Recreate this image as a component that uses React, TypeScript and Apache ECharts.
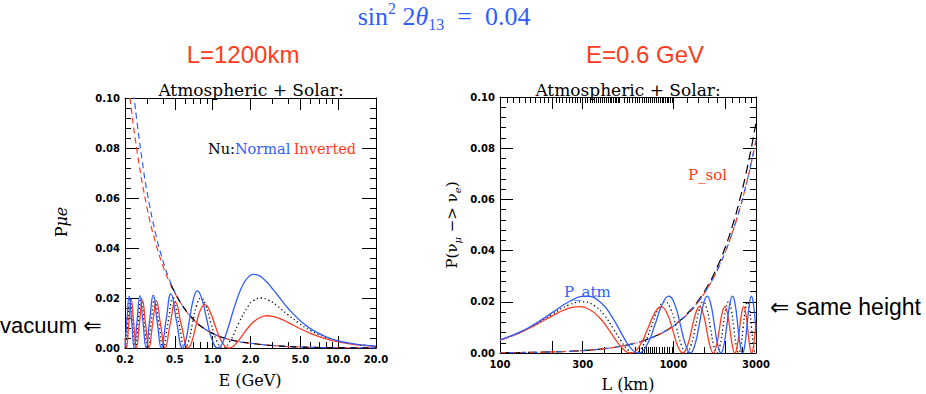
import React, { useEffect, useRef } from 'react';
import * as echarts from 'echarts';

const BLUE = '#2f5dff';
const RED = '#ff3b20';

// ---- Left panel: P(mu->e) vs E (GeV), L = 1200 km ----
const leftVacuum: [number, number][] = [
  [0.2016, 0], [0.2104, 0.01], [0.2199, 0.02], [0.2304, 0.01], [0.2419, 0], [0.2547, 0.01], [0.2688, 0.02],
  [0.2846, 0.01], [0.3024, 0], [0.3226, 0.01], [0.3456, 0.02], [0.3722, 0.01], [0.4032, 0], [0.4399, 0.01],
  [0.4839, 0.02], [0.5376, 0.01], [0.6048, 0], [0.6451, 0.00293], [0.6912, 0.01], [0.7444, 0.01707],
  [0.8064, 0.02], [0.8797, 0.01707], [0.9677, 0.01], [1.0752, 0.00293], [1.2095, 0], [1.382, 0.00293],
  [1.613, 0.01], [1.935, 0.01707], [2.1, 0.01888], [2.419, 0.02], [2.8, 0.01911], [3.226, 0.01707],
  [4, 0.0132], [4.838, 0.01], [6, 0.007], [8, 0.0042], [9.677, 0.00293], [13, 0.00166], [16, 0.00111], [20, 0.00071],
];
const leftNormal: [number, number][] = [
  [0.2, 0.0006], [0.2067, 0.0103], [0.2159, 0.02075], [0.226, 0.0104], [0.237, 0], [0.2492, 0.01044],
  [0.2628, 0.02092], [0.2779, 0.01049], [0.2948, 0], [0.3139, 0.01056], [0.3357, 0.02119], [0.3608, 0.01064],
  [0.3898, 0], [0.424, 0.01076], [0.4647, 0.02168], [0.5141, 0.01093], [0.5752, 0], [0.6116, 0.00326],
  [0.6528, 0.01121], [0.7001, 0.0193], [0.7547, 0.02284], [0.8185, 0.01972], [0.8941, 0.01171], [0.9851, 0.00349],
  [1.0968, 0], [1.15, 0.00063], [1.2, 0.00214], [1.3, 0.00672], [1.4, 0.01201], [1.5, 0.01691], [1.65, 0.02278],
  [1.8, 0.02659], [1.95, 0.02865], [2.1, 0.02943], [2.3, 0.02914], [2.6, 0.02717], [3.0, 0.02363], [3.5, 0.01934],
  [4, 0.01581], [5, 0.01084], [6, 0.00777], [8, 0.00447], [10, 0.00289], [13, 0.00171], [16, 0.00113], [20, 0.00072],
];
const leftInverted: [number, number][] = [
  [0.2, 0.00401], [0.2051, 0], [0.2142, 0.00965], [0.2241, 0.01926], [0.235, 0.00961], [0.247, 0],
  [0.2603, 0.00957], [0.2751, 0.0191], [0.2917, 0.00952], [0.3104, 0], [0.3316, 0.00946], [0.356, 0.01884],
  [0.3843, 0.00938], [0.4175, 0], [0.4569, 0.00927], [0.5046, 0.01839], [0.5633, 0.00911], [0.6376, 0],
  [0.6825, 0.00262], [0.7343, 0.00886], [0.7946, 0.01498], [0.8658, 0.01735], [0.9508, 0.01462], [1.0544, 0.00842],
  [1.1833, 0.00242], [1.3482, 0], [1.42, 0.00032], [1.5, 0.00125], [1.6, 0.00284], [1.75, 0.00551], [1.9, 0.00791],
  [2.1, 0.0103], [2.4, 0.01231], [2.7, 0.0129], [3.0, 0.01269], [3.5, 0.01157], [4, 0.01018], [5, 0.00769],
  [6, 0.00586], [8, 0.00363], [10, 0.00244], [13, 0.0015], [16, 0.00101], [20, 0.00066],
];
const leftSolarNormal: [number, number][] = [
  [0.23, 0.106], [0.237, 0.1], [0.25, 0.0899], [0.28, 0.0717], [0.3, 0.0624], [0.35, 0.0459], [0.4, 0.0351],
  [0.45, 0.0276], [0.5, 0.0222], [0.6, 0.0156], [0.7, 0.0115], [0.8, 0.0088], [1.0, 0.0058], [1.2, 0.0042],
  [1.5, 0.0029], [2.0, 0.0019], [3.0, 0.001], [5, 0.0004], [10, 0.00012], [20, 0.00004],
];
const leftSolarInverted: [number, number][] = [
  [0.21, 0.108], [0.219, 0.1], [0.25, 0.0785], [0.3, 0.056], [0.35, 0.0422], [0.4, 0.033], [0.45, 0.0266],
  [0.5, 0.0219], [0.6, 0.0155], [0.7, 0.0115], [0.8, 0.0088], [1.0, 0.0058], [1.2, 0.0042], [1.5, 0.0029],
  [2.0, 0.0019], [3.0, 0.001], [5, 0.0004], [10, 0.00012], [20, 0.00004],
];
const leftSolarVacuum: [number, number][] = [
  [0.45, 0.0272], [0.5, 0.0221], [0.6, 0.0155], [0.7, 0.0115], [0.8, 0.0088], [1.0, 0.0058], [1.2, 0.0042],
  [1.5, 0.0029], [2.0, 0.0019], [3.0, 0.001], [5, 0.0004], [10, 0.00012], [20, 0.00004],
];

// ---- Right panel: P vs L (km), E = 0.6 GeV ----
const rightNormal: [number, number][] = [
  [100, 0.00512], [130, 0.00816], [160, 0.01146], [200, 0.01576], [250, 0.02002], [313.6, 0.0222], [380, 0.01983],
  [450, 0.01337], [520, 0.00581], [580, 0.00122], [627.2, 0], [705.6, 0.00325], [784, 0.0111], [862.4, 0.01895],
  [940.8, 0.0222], [1019.2, 0.01895], [1097.6, 0.0111], [1176, 0.00325], [1254.4, 0], [1332.8, 0.00325],
  [1411.2, 0.0111], [1489.6, 0.01895], [1568, 0.0222], [1646.4, 0.01895], [1724.8, 0.0111], [1803.2, 0.00325],
  [1881.6, 0], [1960, 0.00325], [2038.4, 0.0111], [2116.8, 0.01895], [2195.2, 0.0222], [2273.6, 0.01895],
  [2352, 0.0111], [2430.4, 0.00325], [2508.8, 0], [2587.2, 0.00325], [2665.6, 0.0111], [2744, 0.01895],
  [2822.4, 0.0222], [2900.8, 0.01895], [2979.2, 0.0111], [3000, 0.0088],
];
const rightInverted: [number, number][] = [
  [100, 0.00502], [130, 0.00789], [160, 0.01089], [200, 0.01451], [240, 0.01708], [283.2, 0.0181], [330, 0.0169],
  [380, 0.01336], [430, 0.00852], [480, 0.00384], [530, 0.00072], [566.4, 0], [637.2, 0.00265], [708, 0.00905],
  [778.8, 0.01545], [849.6, 0.0181], [920.4, 0.01545], [991.2, 0.00905], [1062, 0.00265], [1132.8, 0],
  [1203.6, 0.00265], [1274.4, 0.00905], [1345.2, 0.01545], [1416, 0.0181], [1486.8, 0.01545], [1557.6, 0.00905],
  [1628.4, 0.00265], [1699.2, 0], [1770, 0.00265], [1840.8, 0.00905], [1911.6, 0.01545], [1982.4, 0.0181],
  [2053.2, 0.01545], [2124, 0.00905], [2194.8, 0.00265], [2265.6, 0], [2336.4, 0.00265], [2407.2, 0.00905],
  [2478, 0.01545], [2548.8, 0.0181], [2619.6, 0.01545], [2690.4, 0.00905], [2761.2, 0.00265], [2832, 0],
  [2902.8, 0.00265], [2973.6, 0.00905], [3000, 0.01168],
];
const rightVacuum: [number, number][] = [
  [100, 0.00507], [130, 0.00803], [160, 0.01118], [200, 0.01515], [250, 0.01876], [297.6, 0.02], [350, 0.01851],
  [400, 0.01471], [450, 0.00962], [500, 0.00464], [550, 0.00112], [595.2, 0], [669.6, 0.00293], [744, 0.01],
  [818.4, 0.01707], [892.8, 0.02], [967.2, 0.01707], [1041.6, 0.01], [1116, 0.00293], [1190.4, 0],
  [1264.8, 0.00293], [1339.2, 0.01], [1413.6, 0.01707], [1488, 0.02], [1562.4, 0.01707], [1636.8, 0.01],
  [1711.2, 0.00293], [1785.6, 0], [1860, 0.00293], [1934.4, 0.01], [2008.8, 0.01707], [2083.2, 0.02],
  [2157.6, 0.01707], [2232, 0.01], [2306.4, 0.00293], [2380.8, 0], [2455.2, 0.00293], [2529.6, 0.01],
  [2604, 0.01707], [2678.4, 0.02], [2752.8, 0.01707], [2827.2, 0.01], [2901.6, 0.00293], [2976, 0], [3000, 0.0003],
];
const rightSolarVacuum: [number, number][] = [
  [100, 0.000107], [200, 0.00043], [300, 0.00096], [400, 0.00171], [500, 0.00267], [600, 0.00384], [700, 0.00522],
  [800, 0.00682], [900, 0.00862], [1000, 0.01062], [1200, 0.01525], [1400, 0.02067], [1600, 0.02688],
  [1800, 0.03385], [2000, 0.04155], [2200, 0.04997], [2400, 0.05905], [2600, 0.06878], [2800, 0.0791], [3000, 0.09],
];
const rightSolarMatter: [number, number][] = [
  [100, 0.0001], [200, 0.00043], [300, 0.00096], [400, 0.0017], [500, 0.00266], [600, 0.00382], [700, 0.0052],
  [800, 0.00677], [900, 0.00854], [1000, 0.0105], [1200, 0.015], [1400, 0.0202], [1600, 0.0261], [1800, 0.0326],
  [2000, 0.0397], [2200, 0.0474], [2400, 0.0556], [2600, 0.0643], [2800, 0.0735], [3000, 0.0832],
];

// ---- Tick values ----
const leftLabels = [0.2, 0.5, 1, 2, 5, 10, 20];
const leftMinor = [0.3, 0.4, 0.6, 0.7, 0.8, 0.9, 3, 4, 6, 7, 8, 9];
const rightLabels = [100, 300, 1000, 3000];
const rightMajor = [200, 300, 1000, 2000];
const rightTopMinor = [
  ...Array.from({ length: 19 }, (_, i) => 110 + 10 * i).filter((v) => v !== 200),
  ...Array.from({ length: 19 }, (_, i) => 310 + 10 * i),
  ...Array.from({ length: 24 }, (_, i) => 520 + 20 * i),
  1200, 1400, 1600, 1800, 2200, 2400, 2600, 2800,
];
const rightBottomMinor = [
  400, 500, 600, 640, 660, 680, 700, 720, 740, 760, 780, 800, 830, 860, 890, 920, 950, 980, 1500, 2500,
];

const lg = (v: number) => Math.log10(v);
const toLog = (d: [number, number][]) => d.map(([x, y]) => [Math.log10(x), y]);

const GRID_L = { left: 125, top: 98, width: 251, height: 250 };
const GRID_R = { left: 500, top: 97, width: 256, height: 256 };

export default function App() {
  const ref = useRef<HTMLDivElement>(null);
  useEffect(() => {
    const chart = echarts.init(ref.current!, null, { renderer: 'svg' });
    const black = { color: '#000', width: 1 };
    const tickLabel = { color: '#000', fontFamily: 'DejaVu Sans', fontWeight: 'bold' as const, fontSize: 10 };

    const xPair = (gridIndex: number, min: number, max: number, majors: number[], labels: number[], fmt: (v: number) => string) => [
      {
        type: 'value', gridIndex, position: 'bottom', min, max,
        axisLine: { show: true, onZero: false, lineStyle: black },
        axisTick: { show: true, inside: true, length: 12, customValues: majors.map(lg), lineStyle: black },
        axisLabel: { show: true, customValues: labels.map(lg), formatter: fmt, margin: 6, showMinLabel: true, showMaxLabel: true, ...tickLabel },
        splitLine: { show: false },
      },
      {
        type: 'value', gridIndex, position: 'top', min, max,
        axisLine: { show: true, onZero: false, lineStyle: black },
        axisTick: { show: true, inside: true, length: 12, customValues: majors.map(lg), lineStyle: black },
        axisLabel: { show: false },
        splitLine: { show: false },
      },
    ];
    const xMinor = (gridIndex: number, min: number, max: number, bottom: number[], top: number[]) => [
      {
        type: 'value', gridIndex, position: 'bottom', min, max,
        axisLine: { show: false, onZero: false },
        axisTick: { show: true, inside: true, length: 6, customValues: bottom.map(lg), lineStyle: black },
        axisLabel: { show: false }, splitLine: { show: false },
      },
      {
        type: 'value', gridIndex, position: 'top', min, max,
        axisLine: { show: false, onZero: false },
        axisTick: { show: true, inside: true, length: 6, customValues: top.map(lg), lineStyle: black },
        axisLabel: { show: false }, splitLine: { show: false },
      },
    ];
    const yPair = (gridIndex: number, len: number) => [
      {
        type: 'value', gridIndex, position: 'left', min: 0, max: 0.1, interval: 0.02,
        axisLine: { show: true, onZero: false, lineStyle: black },
        axisTick: { show: true, inside: true, length: len, lineStyle: black },
        minorTick: { show: true, splitNumber: 5, length: 6, lineStyle: black },
        axisLabel: { show: true, margin: 5, formatter: (v: number) => v.toFixed(2), ...tickLabel },
        splitLine: { show: false }, minorSplitLine: { show: false },
      },
      {
        type: 'value', gridIndex, position: 'right', min: 0, max: 0.1, interval: 0.02,
        axisLine: { show: true, onZero: false, lineStyle: black },
        axisTick: { show: true, inside: true, length: len, lineStyle: black },
        minorTick: { show: true, splitNumber: 5, length: 6, lineStyle: black },
        axisLabel: { show: false },
        splitLine: { show: false }, minorSplitLine: { show: false },
      },
    ];
    const yHidden = (gridIndex: number) => ({ type: 'value', gridIndex, show: false, min: 0, max: 0.1, splitLine: { show: false } });

    const lmin = lg(0.2), lmax = lg(20), rmin = lg(100), rmax = lg(3000);

    const line = (data: [number, number][], xi: number, yi: number, color: string, type: any, width: number, z: number, dashOffset = 0) => ({
      type: 'line', xAxisIndex: xi, yAxisIndex: yi, data: toLog(data), showSymbol: false, symbol: 'none',
      smooth: 0.5, silent: true, z, clip: true,
      lineStyle: { color, width, type, dashOffset },
    });

    const serif = 'DejaVu Serif';
    const txt = (x: number, y: number, text: string, fontSize: number, fill: string, fontFamily: string, align = 'center', extra: any = {}) => ({
      type: 'text', x, y, silent: true,
      style: { text, fontSize, fill, fontFamily, align, verticalAlign: 'middle', ...extra },
    });

    const option: any = {
      animation: false,
      backgroundColor: '#ffffff',
      grid: [
        { ...GRID_L, outerBoundsMode: 'none' },
        { ...GRID_L, outerBoundsMode: 'none' },
        { ...GRID_R, outerBoundsMode: 'none' },
        { ...GRID_R, outerBoundsMode: 'none' },
      ],
      xAxis: [
        ...xPair(0, lmin, lmax, leftLabels, leftLabels, (v: number) => Math.pow(10, v).toFixed(1)),
        ...xMinor(1, lmin, lmax, leftMinor, leftMinor),
        ...xPair(2, rmin, rmax, rightMajor, rightLabels, (v: number) => String(Math.round(Math.pow(10, v)))),
        ...xMinor(3, rmin, rmax, rightBottomMinor, rightTopMinor),
      ],
      yAxis: [...yPair(0, 14), yHidden(1), ...yPair(2, 13), yHidden(3)],
      series: [
        line(leftSolarInverted, 0, 0, RED, [6, 4], 1.2, 2),
        line(leftSolarNormal, 0, 0, BLUE, [6, 4], 1.2, 3),
        line(leftSolarVacuum, 0, 0, '#000', [6, 6], 1.2, 4, 6),
        line(leftVacuum, 0, 0, '#000', [1.2, 2.8], 1.3, 5),
        line(leftInverted, 0, 0, RED, 'solid', 1.3, 6),
        line(leftNormal, 0, 0, BLUE, 'solid', 1.3, 7),
        line(rightSolarVacuum, 4, 3, '#000', [9, 5], 1.2, 2),
        line(rightSolarMatter, 4, 3, RED, [6, 4], 1.2, 3),
        line(rightSolarMatter, 4, 3, BLUE, [5, 3, 1, 3], 1.2, 4, 3),
        line(rightVacuum, 4, 3, '#000', [1.2, 2.8], 1.3, 5),
        line(rightInverted, 4, 3, RED, 'solid', 1.3, 6),
        line(rightNormal, 4, 3, BLUE, 'solid', 1.3, 7),
      ],
      graphic: [
        {
          type: 'text', x: 444, y: 16, silent: true,
          style: {
            text: '{n|sin}{sup|2}{n| 2}{i|θ}{sub|13}{n|  =  0.04}', align: 'center', verticalAlign: 'middle',
            rich: {
              n: { fontSize: 26, fontFamily: 'Liberation Serif', fill: BLUE, lineHeight: 32 },
              i: { fontSize: 26, fontFamily: 'Liberation Serif', fontStyle: 'italic', fill: BLUE, lineHeight: 32 },
              sup: { fontSize: 16, fontFamily: 'Liberation Serif', fill: BLUE, verticalAlign: 'top', lineHeight: 18 },
              sub: { fontSize: 16, fontFamily: 'Liberation Serif', fill: BLUE, verticalAlign: 'bottom', lineHeight: 20 },
            },
          },
        },
        txt(243, 54, 'L=1200km', 24, RED, 'Liberation Sans'),
        txt(645, 54, 'E=0.6 GeV', 24, RED, 'Liberation Sans'),
        txt(251, 90, 'Atmospheric + Solar:', 17, '#000', serif),
        txt(628, 90, 'Atmospheric + Solar:', 17, '#000', serif),
        {
          type: 'text', x: 208, y: 149, silent: true,
          style: {
            text: '{k|Nu:}{b|Normal} {r|Inverted}', align: 'left', verticalAlign: 'middle',
            rich: {
              k: { fontSize: 14.5, fontFamily: serif, fill: '#000' },
              b: { fontSize: 14.5, fontFamily: serif, fill: BLUE },
              r: { fontSize: 14.5, fontFamily: serif, fill: RED },
            },
          },
        },
        txt(564, 292, 'P_atm', 15, BLUE, serif, 'left'),
        txt(688, 175, 'P_sol', 15, RED, serif, 'left'),
        txt(250, 380, 'E (GeV)', 16, '#000', serif),
        txt(628, 384, 'L (km)', 16, '#000', serif),
        {
          type: 'text', x: 61, y: 222, rotation: Math.PI / 2, silent: true,
          style: {
            text: '{p|P}{i|μe}', align: 'center', verticalAlign: 'middle',
            rich: {
              p: { fontSize: 16, fontFamily: serif, fill: '#000' },
              i: { fontSize: 16, fontFamily: serif, fontStyle: 'italic', fill: '#000' },
            },
          },
        },
        {
          type: 'text', x: 452, y: 225, rotation: Math.PI / 2, silent: true,
          style: {
            text: '{n|P(ν}{s|μ}{n| −> ν}{s|e}{n|)}', align: 'center', verticalAlign: 'middle',
            rich: {
              n: { fontSize: 15, fontFamily: serif, fill: '#000', lineHeight: 20 },
              s: { fontSize: 10, fontFamily: serif, fontStyle: 'italic', fill: '#000', verticalAlign: 'bottom', lineHeight: 14 },
            },
          },
        },
        txt(0, 325, 'vacuum ⇐', 22, '#000', 'Liberation Sans, DejaVu Sans', 'left'),
        txt(770, 307, '⇐ same height', 23, '#000', 'Liberation Sans, DejaVu Sans', 'left'),
      ],
    };
    chart.setOption(option);
    return () => chart.dispose();
  }, []);
  return (
    <div
      ref={ref}
      style={{ position: 'fixed', left: 0, top: 0, width: 926, height: 394, background: '#fff' }}
    />
  );
}
